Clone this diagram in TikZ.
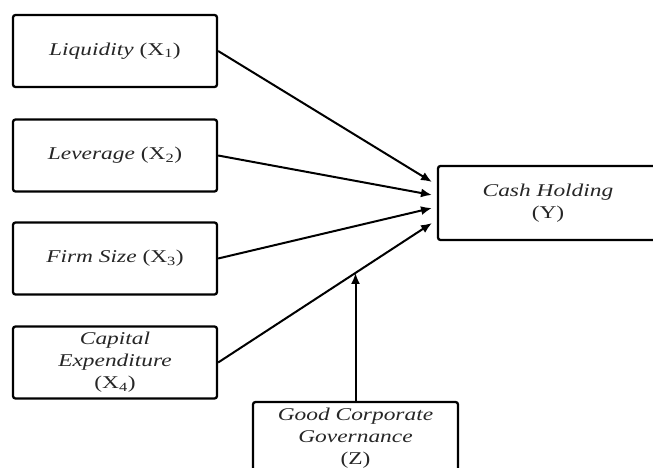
\documentclass[tikz,border=0pt]{standalone}
\usepackage{fontspec}
\setmainfont{Liberation Serif}[FakeStretch=1.3]
\usetikzlibrary{arrows.meta}
\begin{document}
\begin{tikzpicture}[x=1pt,y=1pt,
  box/.style={draw, line width=2.3pt, rounded corners=2.5pt, minimum width=204pt,
    minimum height=72pt, align=center, inner sep=0pt,
    font=\fontsize{18}{22}\selectfont\itshape, text=black!85},
  arr/.style={line width=2pt, -{Latex[length=11pt,width=9pt]}}]
\clip (0,0) rectangle (653,467);
\useasboundingbox (0,0) rectangle (653,467);
\node[box] (b1) at (115,416) {Liquidity \textup{(X\textsubscript{1})}};
\node[box] (b2) at (115,311.5) {Leverage \textup{(X\textsubscript{2})}};
\node[box] (b3) at (115,208.5) {Firm Size \textup{(X\textsubscript{3})}};
\node[box] (b4) at (115,104.5) {Capital\\Expenditure\\\textup{(X\textsubscript{4})}};
\node[box, minimum width=220pt, minimum height=74pt] (y) at (548,264) {Cash Holding\\\textup{(Y)}};
\node[box, minimum width=205pt, minimum height=72pt] (g) at (355.5,29) {Good Corporate\\Governance\\\textup{(Z)}};
\coordinate (t1) at (432,285);
\coordinate (t2) at (432,272);
\coordinate (t3) at (432,259);
\coordinate (t4) at (432,244);
\draw[arr] (b1.east) -- (t1);
\draw[arr] (b2.east) -- (t2);
\draw[arr] (b3.east) -- (t3);
\draw[arr] (b4.east) -- coordinate[pos=0.642] (m) (t4);
\draw[arr] (g.north) -- (g.north |- m);
\end{tikzpicture}
\end{document}
